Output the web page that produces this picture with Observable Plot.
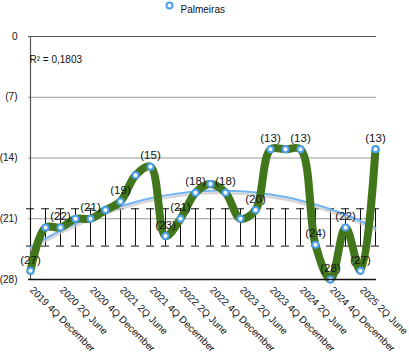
<!DOCTYPE html>
<html>
<head>
<meta charset="utf-8">
<script src="https://cdn.jsdelivr.net/npm/d3@7"></script>
<script src="https://cdn.jsdelivr.net/npm/@observablehq/plot@0.6"></script>
<style>
  html, body { margin: 0; padding: 0; background: #fff; }
  svg { font-family: "Liberation Sans", Arial, Helvetica, sans-serif; }
</style>
</head>
<body>
<div id="chart"></div>
<script>
const seriesName = "Palmeiras";
const r2Text = "R² = 0,1803";
const categories = [
  "2019 4Q December","2020 1Q March","2020 2Q June","2020 3Q September",
  "2020 4Q December","2021 1Q March","2021 2Q June","2021 3Q September",
  "2021 4Q December","2022 1Q March","2022 2Q June","2022 3Q September",
  "2022 4Q December","2023 1Q March","2023 2Q June","2023 3Q September",
  "2023 4Q December","2024 1Q March","2024 2Q June","2024 3Q September",
  "2024 4Q December","2025 1Q March","2025 2Q June","2025 3Q September"
];
const values = [-27,-22,-22,-21,-21,-20,-19,-16,-15,-23,-21,-18,-17,-18,-21,-20,-13,-13,-13,-24,-28,-22,-27,-13];
const showLabel = [1,0,1,0,1,0,1,0,1,1,1,1,0,1,0,1,1,0,1,1,1,1,1,1];
const tickLabels = [
  "2019 4Q December","2020 2Q June","2020 4Q December","2021 2Q June",
  "2021 4Q December","2022 2Q June","2022 4Q December","2023 2Q June",
  "2023 4Q December","2024 2Q June","2024 4Q December","2025 2Q June"
];
const yTicks = [0, -7, -14, -21, -28];
const errUpper = [-19.85,-19.85,-19.85,-19.85,-19.85,-19.85,-19.85,-19.85,-19.85,-19.85,-19.85,-19.85,-19.85,-19.85,-19.85,-19.85,-19.85,-19.85,-19.85,-19.85,-19.85,-19.85,-19.85,-19.85];
const errLower = [-24.15,-24.15,-24.15,-24.15,-24.15,-24.15,-24.15,-24.15,-24.15,-24.15,-24.15,-24.15,-24.15,-24.15,-24.15,-24.15,-24.15,-24.15,-24.15,-24.15,-24.15,-24.15,-24.15,-24.15];

const data = categories.map((c, i) => ({cat: c, i, v: values[i], show: showLabel[i], hi: errUpper[i], lo: errLower[i]}));

// quadratic (order 2) least-squares trend computed from the series (R² = 0.1803)
function polyFit2(xs, ys) {
  const n = xs.length;
  let s = [0,0,0,0,0], t = [0,0,0];
  for (let k = 0; k < n; k++) {
    const x = xs[k], y = ys[k];
    for (let p = 0; p <= 4; p++) s[p] += Math.pow(x, p);
    for (let p = 0; p <= 2; p++) t[p] += y * Math.pow(x, p);
  }
  const A = [[s[0],s[1],s[2],t[0]],[s[1],s[2],s[3],t[1]],[s[2],s[3],s[4],t[2]]];
  for (let c = 0; c < 3; c++) {
    for (let r = c + 1; r < 3; r++) {
      const f = A[r][c] / A[c][c];
      for (let k = c; k < 4; k++) A[r][k] -= f * A[c][k];
    }
  }
  const coef = [0,0,0];
  for (let r = 2; r >= 0; r--) {
    let v = A[r][3];
    for (let k = r + 1; k < 3; k++) v -= A[r][k] * coef[k];
    coef[r] = v / A[r][r];
  }
  return coef;
}
const coef = polyFit2(data.map(d => d.i), values);
const trend = data.map(d => ({cat: d.cat, t: coef[0] + coef[1]*d.i + coef[2]*d.i*d.i}));

const fmt = v => v === 0 ? "0" : `(${Math.abs(v)})`;
const font = "Liberation Sans, Arial, Helvetica, sans-serif";

const chart = Plot.plot({
  width: 409,
  height: 356,
  marginLeft: 28,
  marginRight: 33,
  marginTop: 36,
  marginBottom: 77,
  style: {fontFamily: font, fontSize: "10px", background: "white", color: "#111"},
  x: {type: "point", domain: categories, padding: 0, axis: null},
  y: {domain: [-28, 0], axis: null},
  marks: [
    Plot.ruleY(yTicks.filter(v => v !== 0 && v !== -28), {stroke: "#9a9a9a", strokeWidth: 1.2}),
    Plot.ruleY([0], {stroke: "#555", strokeWidth: 1.2}),
    Plot.ruleX([categories[0]], {y1: 0, y2: -28, stroke: "#555", strokeWidth: 1.2}),
    // error bars
    Plot.ruleX(data, {x: "cat", y1: "hi", y2: "lo", stroke: "#111", strokeWidth: 1}),
    Plot.ruleY(data, {x1: "cat", x2: "cat", y: "hi", stroke: "#111", strokeWidth: 1, insetLeft: -4, insetRight: -4}),
    Plot.ruleY(data, {x1: "cat", x2: "cat", y: "lo", stroke: "#111", strokeWidth: 1, insetLeft: -4, insetRight: -4}),
    // trend shadow + trend
    Plot.line(trend, {x: "cat", y: "t", curve: "natural", stroke: "#c4c4c4", strokeWidth: 2.5, dy: 2.5, strokeOpacity: 0.7}),
    Plot.line(trend, {x: "cat", y: "t", curve: "natural", stroke: "#73b4f5", strokeWidth: 2}),
    // main series
    Plot.line(data, {x: "cat", y: "v", curve: "catmull-rom", stroke: "#41761b", strokeWidth: 8, strokeLinejoin: "round", strokeLinecap: "round"}),
    Plot.dot(data, {x: "cat", y: "v", r: 3, fill: "white", stroke: "#4d9ff0", strokeWidth: 2}),
    Plot.text(data.filter(d => d.show), {x: "cat", y: "v", text: d => fmt(d.v), dy: -11, fontSize: 11.5, fill: "#111"}),
    // bottom axis line
    Plot.ruleY([-28], {stroke: "#111", strokeWidth: 1.5}),
    // y tick labels
    Plot.text(yTicks, {frameAnchor: "left", y: d => d, text: fmt, textAnchor: "end", dx: -11, fontSize: 10, fill: "#111"}),
    // x tick labels
    Plot.text(tickLabels, {x: d => d, y: () => -28, text: d => d, rotate: 45, textAnchor: "start", dx: 1, dy: 9, fontSize: 10, fill: "#111"}),
    // R² text
    Plot.text([r2Text], {frameAnchor: "top-left", dx: 1, dy: 19, textAnchor: "start", fontSize: 10, fill: "#111"}),
    // legend
    Plot.dot([seriesName], {frameAnchor: "top-left", dx: 141, dy: -31, r: 3, fill: "white", stroke: "#4d9ff0", strokeWidth: 2}),
    Plot.text([seriesName], {frameAnchor: "top-left", dx: 152, dy: -31, textAnchor: "start", fontSize: 10, fill: "#111"})
  ]
});
document.getElementById("chart").appendChild(chart);
</script>
</body>
</html>
